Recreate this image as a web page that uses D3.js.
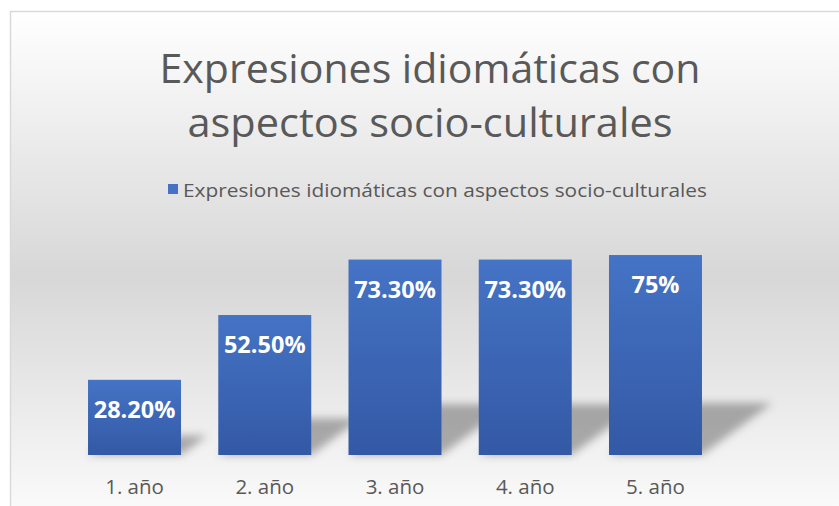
<!DOCTYPE html>
<html>
<head>
<meta charset="utf-8">
<script src="https://cdn.jsdelivr.net/npm/d3@7"></script>
<style>
  body { margin: 0; background: #fff; }
  svg { display: block; font-family: "Open Sans", "Noto Sans", sans-serif; }
</style>
</head>
<body>
<svg id="chart" width="839" height="506"></svg>
<script>
// data
const categories = ["1. año", "2. año", "3. año", "4. año", "5. año"];
const values = [28.2, 52.5, 73.3, 73.3, 75];
const seriesName = "Expresiones idiomáticas con aspectos socio-culturales";
const titleLines = ["Expresiones idiomáticas con", "aspectos socio-culturales"];

const svg = d3.select("#chart");
const defs = svg.append("defs");

// background gradient of the chart area
let bg = defs.append("linearGradient").attr("id", "bgGrad")
    .attr("x1", 0).attr("y1", 0).attr("x2", 0).attr("y2", 1);
bg.append("stop").attr("offset", "0").attr("stop-color", "#ffffff");
bg.append("stop").attr("offset", "0.5").attr("stop-color", "#d7d7d7");
bg.append("stop").attr("offset", "1").attr("stop-color", "#ffffff");

let barGrad = defs.append("linearGradient").attr("id", "barGrad")
    .attr("x1", 0).attr("y1", 0).attr("x2", 0).attr("y2", 1);
barGrad.append("stop").attr("offset", "0").attr("stop-color", "#4573c5");
barGrad.append("stop").attr("offset", "1").attr("stop-color", "#3359a5");

defs.append("filter").attr("id", "blur")
    .attr("x", "-50%").attr("y", "-50%").attr("width", "200%").attr("height", "200%")
    .append("feGaussianBlur").attr("stdDeviation", 4);

svg.append("rect")
    .attr("x", 10.5).attr("y", 11.5)
    .attr("width", 860).attr("height", 530)
    .attr("fill", "url(#bgGrad)")
    .attr("stroke", "#d9d9d9").attr("stroke-width", 1.5);

// title
svg.append("g").selectAll("text")
    .data(titleLines)
    .join("text")
    .attr("x", 430)
    .attr("y", (d, i) => 83 + i * 54)
    .attr("text-anchor", "middle")
    .attr("font-size", 41)
    .attr("fill", "#595959")
    .attr("textLength", (d, i) => i === 0 ? 541 : 485)
    .attr("lengthAdjust", "spacingAndGlyphs")
    .text(d => d);

// legend
let legend = svg.append("g");
legend.append("rect")
    .attr("x", 168).attr("y", 184)
    .attr("width", 10).attr("height", 10)
    .attr("fill", "#4472c4");
legend.append("text")
    .attr("x", 183).attr("y", 197)
    .attr("font-size", 19)
    .attr("fill", "#595959")
    .attr("textLength", 524)
    .attr("lengthAdjust", "spacingAndGlyphs")
    .text(seriesName);

// scales
let x = d3.scaleBand()
    .domain(categories)
    .range([69.4, 720.6])
    .paddingInner(0.286)
    .paddingOuter(0.143);

let y = d3.scaleLinear()
    .domain([0, 80])
    .range([455, 241.7]);

let rows = categories.map((c, i) => ({cat: c, value: values[i]}));

// perspective shadows behind the bars
svg.append("g")
    .attr("filter", "url(#blur)")
    .selectAll("path")
    .data(rows)
    .join("path")
    .attr("fill", "#000")
    .attr("fill-opacity", 0.3)
    .attr("d", d => {
        let x0 = x(d.cat), x1 = x0 + x.bandwidth();
        let h = (y(0) - y(d.value)) * 0.26;
        let dx = h * 1.35;
        return `M${x0},${y(0)}L${x1},${y(0)}L${x1 + dx},${y(0) - h}L${x0 + dx},${y(0) - h}Z`;
    });

// bars
svg.append("g").selectAll("rect")
    .data(rows)
    .join("rect")
    .attr("x", d => x(d.cat))
    .attr("y", d => y(d.value))
    .attr("width", x.bandwidth())
    .attr("height", d => y(0) - y(d.value))
    .attr("fill", "url(#barGrad)");

// value labels
let fmt = v => (v % 1 === 0 ? v : v.toFixed(2)) + "%";
svg.append("g").selectAll("text")
    .data(rows)
    .join("text")
    .attr("x", d => x(d.cat) + x.bandwidth() / 2)
    .attr("y", d => y(d.value) + 38)
    .attr("text-anchor", "middle")
    .attr("font-size", 23.5)
    .attr("font-weight", "bold")
    .attr("fill", "#ffffff")
    .text(d => fmt(d.value));

// category axis (no line, only labels)
let xAxis = svg.append("g")
    .attr("transform", `translate(0,${y(0)})`)
    .call(d3.axisBottom(x).tickSize(0).tickPadding(24));
xAxis.select(".domain").remove();
xAxis.selectAll("text")
    .attr("font-family", "\"Open Sans\", sans-serif")
    .attr("font-size", 20.5)
    .attr("fill", "#595959");
</script>
</body>
</html>
